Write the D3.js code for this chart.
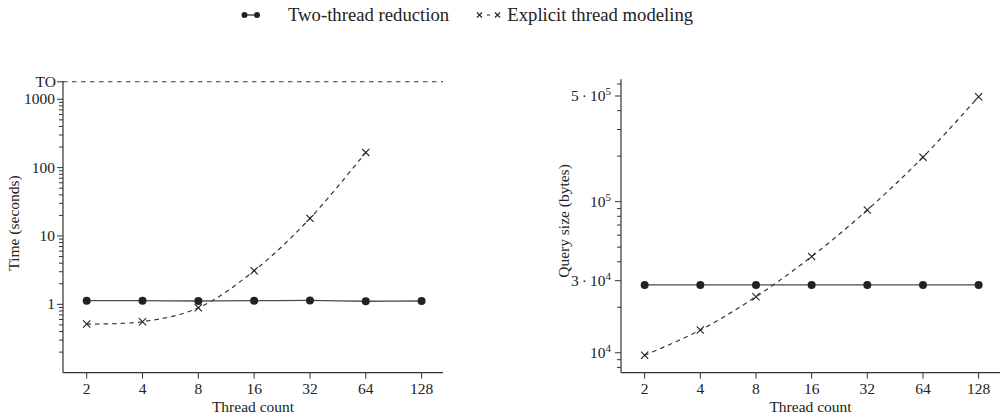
<!DOCTYPE html>
<html>
<head>
<meta charset="utf-8">
<script src="https://cdn.jsdelivr.net/npm/d3@7"></script>
<style>
  html, body { margin: 0; padding: 0; background: #fff; }
  svg { display: block; font-family: "Liberation Serif", "DejaVu Serif", serif; }
</style>
</head>
<body>
<svg id="chart" width="1000" height="418"></svg>
<script>
// thread counts on the x axis
const threads = [2, 4, 8, 16, 32, 64, 128];

// left panel: time in seconds
const timeTwoThread = [1.13, 1.13, 1.12, 1.13, 1.14, 1.11, 1.12];
const timeExplicit = [0.515, 0.557, 0.89, 3.1, 18.1, 167];
const timeoutValue = 1800;
const timeTicks = [1, 10, 100, 1000];
const timeMinor = [0.2, 0.3, 0.4, 0.5, 0.6, 0.7, 0.8, 0.9, 2, 3, 4, 5, 6, 7, 8, 9,
  20, 30, 40, 50, 60, 70, 80, 90, 200, 300, 400, 500, 600, 700, 800, 900];

// right panel: query size in bytes
const sizeTwoThread = [28100, 28100, 28100, 28100, 28100, 28100, 28100];
const sizeExplicit = [9620, 14130, 23500, 43300, 88100, 197000, 495000];
const sizeTicks = [1e4, 3e4, 1e5, 5e5];
const sizeTickLabels = [["10", "4"], ["3\u2009\u00b7\u200910", "4"], ["10", "5"], ["5\u2009\u00b7\u200910", "5"]];
const sizeMinor = [8e3, 9e3, 2e4, 4e4, 5e4, 6e4, 7e4, 8e4, 9e4, 2e5, 3e5, 4e5, 6e5];

const legendNames = ["Two-thread reduction", "Explicit thread modeling"];

const svg = d3.select('#chart');
const ink = '#222';
const axisColor = '#333';
const lineColor = '#4a4a4a';
const dashColor = '#333';

function cross(g, cx, cy, s) {
  g.append('path')
    .attr('d', `M${cx - s},${cy - s}L${cx + s},${cy + s}M${cx - s},${cy + s}L${cx + s},${cy - s}`)
    .attr('stroke', ink).attr('stroke-width', 1.1).attr('fill', 'none');
}

function drawPanel(opts) {
  const g = svg.append('g');
  const x = d3.scaleLog().base(2).domain([1.49, 167]).range(opts.xRange);
  const y = d3.scaleLog().domain(opts.yDomain).range(opts.yRange);
  const x0 = opts.xRange[0], x1 = opts.xRange[1];
  const yb = opts.yRange[0], yt = opts.yRange[1];

  // axis lines
  g.append('line').attr('x1', x0).attr('x2', x0).attr('y1', yt).attr('y2', yb)
    .attr('stroke', axisColor).attr('stroke-width', 1.2);
  g.append('line').attr('x1', x0).attr('x2', x1).attr('y1', yb).attr('y2', yb)
    .attr('stroke', axisColor).attr('stroke-width', 1.2);

  // x ticks
  threads.forEach(t => {
    g.append('line').attr('x1', x(t)).attr('x2', x(t)).attr('y1', yb).attr('y2', yb + 6)
      .attr('stroke', axisColor).attr('stroke-width', 1);
    g.append('text').attr('x', x(t)).attr('y', yb + 21)
      .attr('text-anchor', 'middle').attr('font-size', 15.5).attr('fill', ink).text(t);
  });
  g.append('text').attr('x', (x0 + x1) / 2 + 0).attr('y', yb + 39)
    .attr('text-anchor', 'middle').attr('font-size', 15.5).attr('fill', ink).text('Thread count');

  // y minor ticks
  opts.minor.forEach(v => {
    g.append('line').attr('x1', x0 - 4).attr('x2', x0).attr('y1', y(v)).attr('y2', y(v))
      .attr('stroke', axisColor).attr('stroke-width', 1);
  });
  // y major ticks
  opts.major.forEach((v, i) => {
    g.append('line').attr('x1', x0 - 6).attr('x2', x0).attr('y1', y(v)).attr('y2', y(v))
      .attr('stroke', axisColor).attr('stroke-width', 1);
    const t = g.append('text').attr('x', x0 - opts.labelGap).attr('y', y(v) + 5)
      .attr('text-anchor', 'end').attr('font-size', 15.5).attr('fill', ink);
    const lab = opts.labels[i];
    if (Array.isArray(lab)) {
      t.append('tspan').text(lab[0]);
      t.append('tspan').attr('dy', -6).attr('font-size', 11).text(lab[1]);
    } else {
      t.text(lab);
    }
  });

  g.append('text')
    .attr('transform', `translate(${opts.yLabelX},${opts.yLabelY}) rotate(-90)`)
    .attr('text-anchor', 'middle').attr('font-size', 15.5).attr('fill', ink).text(opts.yLabel);

  const line = d3.line().x(d => x(d[0])).y(d => y(d[1])).curve(d3.curveCatmullRom.alpha(0.5));

  // explicit thread modeling: dashed with crosses
  const ex = opts.explicit.map((v, i) => [threads[i], v]);
  g.append('path').datum(ex).attr('d', line)
    .attr('fill', 'none').attr('stroke', dashColor).attr('stroke-width', 1.2)
    .attr('stroke-dasharray', '4.5,4');
  ex.forEach(d => cross(g, x(d[0]), y(d[1]), 3.6));

  // two-thread reduction: solid with dots
  const tw = opts.two.map((v, i) => [threads[i], v]);
  g.append('path').datum(tw).attr('d', line)
    .attr('fill', 'none').attr('stroke', lineColor).attr('stroke-width', 1.3);
  tw.forEach(d => {
    g.append('circle').attr('cx', x(d[0])).attr('cy', y(d[1])).attr('r', 4).attr('fill', ink);
  });

  return { g, x, y };
}

const left = drawPanel({
  xRange: [63, 443], yDomain: [0.1, 1850], yRange: [372.7, 81],
  minor: timeMinor, major: timeTicks, labels: timeTicks.map(String), labelGap: 8,
  yLabel: 'Time (seconds)', yLabelX: 19, yLabelY: 223,
  two: timeTwoThread, explicit: timeExplicit
});

// timeout line
left.g.append('line')
  .attr('x1', 63).attr('x2', 443)
  .attr('y1', left.y(timeoutValue)).attr('y2', left.y(timeoutValue))
  .attr('stroke', dashColor).attr('stroke-width', 1.1).attr('stroke-dasharray', '4.5,4.5');
left.g.append('line').attr('x1', 57).attr('x2', 63)
  .attr('y1', left.y(timeoutValue)).attr('y2', left.y(timeoutValue))
  .attr('stroke', axisColor).attr('stroke-width', 1);
left.g.append('text').attr('x', 56).attr('y', left.y(timeoutValue) + 5)
  .attr('text-anchor', 'end').attr('font-size', 15.5).attr('fill', ink).text('TO');

drawPanel({
  xRange: [621, 1000], yDomain: [7380, 645000], yRange: [372.7, 79.3],
  minor: sizeMinor, major: sizeTicks, labels: sizeTickLabels, labelGap: 10,
  yLabel: 'Query size (bytes)', yLabelX: 569, yLabelY: 221,
  two: sizeTwoThread, explicit: sizeExplicit
});

// legend
const lg = svg.append('g');
lg.append('line').attr('x1', 244.5).attr('x2', 257).attr('y1', 15).attr('y2', 15)
  .attr('stroke', ink).attr('stroke-width', 1.2);
[244.5, 257].forEach(cx => lg.append('circle').attr('cx', cx).attr('cy', 15).attr('r', 3).attr('fill', ink));
lg.append('text').attr('x', 288).attr('y', 21).attr('font-size', 18.7).attr('fill', ink).text(legendNames[0]);

lg.append('line').attr('x1', 487).attr('x2', 490).attr('y1', 15).attr('y2', 15)
  .attr('stroke', dashColor).attr('stroke-width', 1.1);
cross(lg, 479.5, 15, 2.5);
cross(lg, 497.5, 15, 2.5);
lg.append('text').attr('x', 507.3).attr('y', 21).attr('font-size', 18.7).attr('fill', ink).text(legendNames[1]);
</script>
</body>
</html>
